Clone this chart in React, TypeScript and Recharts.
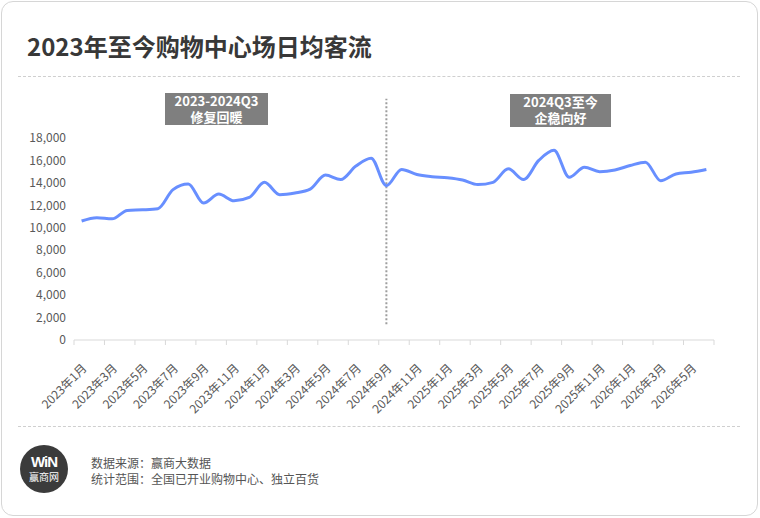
import React from 'react'
import { LineChart, Line, XAxis, YAxis, ReferenceLine } from 'recharts'

const months = [
  '2023年1月', '2023年2月', '2023年3月', '2023年4月', '2023年5月', '2023年6月',
  '2023年7月', '2023年8月', '2023年9月', '2023年10月', '2023年11月', '2023年12月',
  '2024年1月', '2024年2月', '2024年3月', '2024年4月', '2024年5月', '2024年6月',
  '2024年7月', '2024年8月', '2024年9月', '2024年10月', '2024年11月', '2024年12月',
  '2025年1月', '2025年2月', '2025年3月', '2025年4月', '2025年5月', '2025年6月',
  '2025年7月', '2025年8月', '2025年9月', '2025年10月', '2025年11月', '2025年12月',
  '2026年1月', '2026年2月', '2026年3月', '2026年4月', '2026年5月', '2026年6月',
]

const dailyFlow = [
  10600, 10900, 10800, 11550, 11600, 11700, 13400, 13900, 12200, 13000, 12400, 12700,
  14050, 12950, 13100, 13450, 14700, 14300, 15500, 16200, 13750, 15200, 14750, 14550,
  14450, 14250, 13850, 14050, 15250, 14300, 16000, 16900, 14500, 15400, 15000, 15150,
  15550, 15850, 14200, 14800, 14950, 15200,
]

const yTicks = [0, 2000, 4000, 6000, 8000, 10000, 12000, 14000, 16000, 18000]

// the phase split sits on 2024年9月
const splitMonth = '2024年9月'

const FONT = '"Noto Sans CJK SC", "Noto Sans", sans-serif'

// each month gets a band of width 1; points sit in the band centre
const data = months.map((m, i) => ({ x: i + 0.5, month: m, value: dailyFlow[i] }))
const labelTicks = data.filter((_, i) => i % 2 === 0).map(d => d.x)
const boundaryTicks = labelTicks.map(v => v - 0.5).concat([months.length])
const splitX = months.indexOf(splitMonth) + 0.5

function MonthTick(props: any) {
  const { x, y, payload } = props
  const label = months[Math.floor(payload.value)]
  const ax = x + 6
  const ay = y + 20
  return (
    <text
      x={ax}
      y={ay}
      transform={`rotate(-45 ${ax} ${ay})`}
      textAnchor="end"
      fontSize={12}
      fill="#595959"
      fontFamily={FONT}
    >
      {label}
    </text>
  )
}

const tagStyle: React.CSSProperties = {
  position: 'absolute',
  background: '#7f7f7f',
  color: '#fff',
  fontSize: 13,
  fontWeight: 'bold',
  lineHeight: '16px',
  textAlign: 'center',
  boxSizing: 'border-box',
  whiteSpace: 'nowrap',
}

export default function App() {
  return (
    <div style={{ position: 'absolute', left: 0, top: 0, width: 760, height: 518, fontFamily: FONT, background: '#fff' }}>
      {/* card frame */}
      <div
        style={{
          position: 'absolute', left: 1, top: 1, width: 757, height: 515,
          border: '1px solid #d6d6d6', borderRadius: 12, boxSizing: 'border-box',
        }}
      />

      <div style={{ position: 'absolute', left: 27, top: 30, fontSize: 24, fontWeight: 'bold', color: '#383838', lineHeight: '32px', whiteSpace: 'nowrap' }}>
        2023年至今购物中心场日均客流
      </div>
      <div style={{ position: 'absolute', left: 18, top: 76, width: 722, borderTop: '1px dashed #cfcfcf' }} />

      <div style={{ position: 'absolute', left: 0, top: 0 }}>
        <LineChart width={760} height={430} data={data} margin={{ top: 138, right: 46, left: 0, bottom: 88 }}>
          <XAxis
            xAxisId="bounds"
            dataKey="x"
            type="number"
            domain={[0, months.length]}
            ticks={boundaryTicks}
            interval={0}
            height={1}
            axisLine={{ stroke: '#d9d9d9' }}
            tickLine={{ stroke: '#d9d9d9' }}
            tickSize={5}
            tickFormatter={() => ''}
          />
          <XAxis
            xAxisId="label"
            dataKey="x"
            type="number"
            domain={[0, months.length]}
            ticks={labelTicks}
            interval={0}
            height={1}
            axisLine={false}
            tickLine={false}
            tick={<MonthTick />}
          />
          <YAxis
            width={74}
            domain={[0, 18000]}
            ticks={yTicks}
            interval={0}
            axisLine={false}
            tickLine={false}
            tick={{ fill: '#595959', fontSize: 12, fontFamily: FONT }}
            tickFormatter={(v: number) => v.toLocaleString('en-US')}
          />
          <ReferenceLine
            xAxisId="label"
            segment={[{ x: splitX, y: 1400 }, { x: splitX, y: 21500 }]}
            ifOverflow="visible"
            stroke="#9e9e9e"
            strokeWidth={2}
            strokeDasharray="2 2"
          />
          <Line
            xAxisId="label"
            dataKey="value"
            type="monotone"
            stroke="#688fff"
            strokeWidth={3}
            dot={false}
            isAnimationActive={false}
          />
        </LineChart>
      </div>

      <div style={{ ...tagStyle, left: 165, top: 93, width: 103, height: 32 }}>
        2023-2024Q3<br />修复回暖
      </div>
      <div style={{ ...tagStyle, left: 510, top: 94, width: 101, height: 33 }}>
        2024Q3至今<br />企稳向好
      </div>

      <div style={{ position: 'absolute', left: 18, top: 426, width: 722, borderTop: '1px dashed #cfcfcf' }} />

      {/* logo */}
      <div
        style={{
          position: 'absolute', left: 20, top: 445, width: 48, height: 48, borderRadius: '50%',
          background: '#3b3b3b', color: '#fff', textAlign: 'center',
        }}
      >
        <div style={{ fontSize: 15, fontWeight: 'bold', lineHeight: '15px', marginTop: 9, letterSpacing: -1, fontFamily: 'Arial, "Liberation Sans", sans-serif' }}>WiN</div>
        <div style={{ fontSize: 10, lineHeight: '12px', marginTop: 2 }}>赢商网</div>
      </div>

      <div style={{ position: 'absolute', left: 91, top: 455, fontSize: 12, lineHeight: '16px', color: '#555', whiteSpace: 'nowrap' }}>
        数据来源：赢商大数据<br />统计范围：全国已开业购物中心、独立百货
      </div>
    </div>
  )
}
